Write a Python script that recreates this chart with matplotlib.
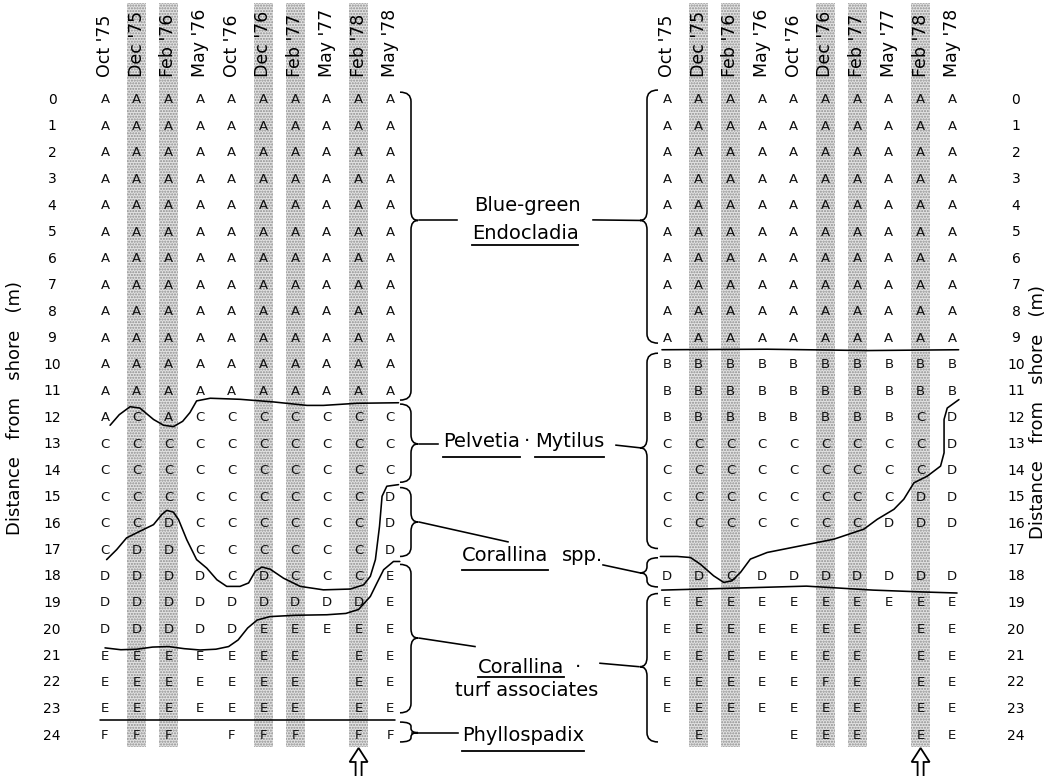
import matplotlib
matplotlib.use("Agg")
import matplotlib.pyplot as plt
from matplotlib.path import Path
from matplotlib.patches import PathPatch, Rectangle, Polygon

# ---------------- data ----------------
months = ["Oct '75", "Dec '75", "Feb '76", "May '76", "Oct '76",
          "Dec '76", "Feb '77", "May '77", "Feb '78", "May '78"]
shaded_cols = [1, 2, 5, 6, 8]
arrow_col = 8
row_labels = [str(i) for i in range(25)]

left_grid = (["AAAAAAAAAA"] * 12 + [
    "ACACCCCCCC",  # 12
    "CCCCCCCCCC",  # 13
    "CCCCCCCCCC",  # 14
    "CCCCCCCCCD",  # 15
    "CCDCCCCCCD",  # 16
    "CDDCCCCCCD",  # 17
    "DDDDCDCCCE",  # 18
    "DDDDDDDDDE",  # 19
    "DDDDDEEEEE",  # 20
    "EEEEEEE EE",  # 21
    "EEEEEEE EE",  # 22
    "EEEEEEE EE",  # 23
    "FFF FFF FF",  # 24
])

right_grid = (["AAAAAAAAAA"] * 10 + [
    "BBBBBBBBBB",  # 10
    "BBBBBBBBBB",  # 11
    "BBBBBBBBCD",  # 12
    "CCCCCCCCCD",  # 13
    "CCCCCCCCCD",  # 14
    "CCCCCCCCDD",  # 15
    "CCCCCCCDDD",  # 16
    "          ",  # 17
    "DDCDDDDDDD",  # 18
    "EEEEEEEEEE",  # 19
    "EEEEEEE EE",  # 20
    "EEEEEEE EE",  # 21
    "EEEEEFE EE",  # 22
    "EEEEEEE EE",  # 23
    " E  EEE EE",  # 24
])

# zone boundaries drawn across the grids, (column, row) pairs
left_bound_AC = [(0.16, 12.35), (0.45, 11.95), (0.79, 11.65), (1.1, 11.7), (1.53, 12.13),
                 (1.85, 12.35), (2.16, 12.4), (2.45, 12.2), (2.68, 11.87), (2.89, 11.43),
                 (3.32, 11.33), (4.26, 11.37), (5.32, 11.47), (6.37, 11.6), (6.89, 11.6),
                 (7.95, 11.52), (9.26, 11.5)]
left_bound_CD = [(0.05, 17.42), (0.37, 17.04), (0.68, 16.6), (1.1, 16.35), (1.53, 16.1),
                 (1.79, 15.72), (1.95, 15.56), (2.16, 15.63), (2.32, 15.91), (2.58, 16.67),
                 (2.89, 17.42), (3.21, 17.74), (3.53, 18.18), (3.84, 18.43), (4.26, 18.43),
                 (4.53, 18.3), (4.74, 17.86), (4.95, 17.7), (5.21, 17.78), (5.63, 18.12),
                 (6.16, 18.43), (6.89, 18.56), (7.74, 18.53), (8.16, 18.37), (8.37, 18.05),
                 (8.53, 17.42), (8.66, 16.16), (8.74, 15.03), (8.89, 14.65), (9.26, 14.59)]
left_bound_DE = [(0.0, 20.75), (0.5, 20.82), (1.0, 20.8), (1.5, 20.72), (2.0, 20.7),
                 (2.5, 20.78), (3.0, 20.83), (3.5, 20.8), (3.9, 20.7), (4.2, 20.45),
                 (4.5, 20.0), (4.8, 19.7), (5.2, 19.57), (6.0, 19.52), (7.0, 19.5),
                 (7.6, 19.45), (8.0, 19.3), (8.37, 18.81), (8.58, 18.3), (8.79, 17.8),
                 (9.1, 17.49), (9.3, 17.49)]
left_bound_EF = [(-0.16, 23.47), (9.15, 23.47)]

right_bound_AB = [(-0.16, 9.5), (3.16, 9.48), (6.3, 9.53), (9.2, 9.5)]
right_bound_BD = [(9.21, 11.38), (8.84, 11.7), (8.74, 12.13), (8.74, 13.39), (8.63, 13.89),
                  (8.21, 14.27), (7.79, 14.52), (7.47, 15.14), (7.16, 15.52), (6.63, 15.9),
                  (6.21, 16.27), (5.26, 16.65), (4.21, 16.9), (3.16, 17.15), (2.63, 17.4),
                  (2.32, 17.9), (2.05, 18.22), (1.79, 18.28), (1.47, 18.03), (1.05, 17.59),
                  (0.74, 17.34), (0.32, 17.3), (-0.21, 17.3)]
right_bound_DE = [(-0.17, 18.57), (2.3, 18.49), (4.4, 18.42), (6.5, 18.57), (8.07, 18.64),
                  (9.15, 18.68)]

# ---------------- layout ----------------
W, H = 1046, 776
X0_PX, DX_PX, RIGHT_X0_PX = 105.0, 31.7, 667.0
Y0_PX, DY_PX = 98.0, 26.5


def cx(px):
    return (px - X0_PX) / DX_PX


def ry(py):
    return (py - Y0_PX) / DY_PX


ROFF = cx(RIGHT_X0_PX)
FONT = "DejaVu Sans"
plt.rcParams["font.family"] = [FONT]
plt.rcParams["hatch.linewidth"] = 1.0

fig = plt.figure(figsize=(W / 100, H / 100), dpi=100)
ax = fig.add_axes([0, 0, 1, 1])
ax.set_xlim(cx(0), cx(W))
ax.set_ylim(ry(H), ry(0))
ax.axis("off")

# stippled (shaded) columns
for off in (0, ROFF):
    for c in shaded_cols:
        ax.add_patch(Rectangle((off + c - 0.3, ry(3)), 0.6, ry(747) - ry(3),
                               facecolor="#e2e2e2", edgecolor="#8e8e8e", hatch="......",
                               lw=0, zorder=0))

# headers
for off in (0, ROFF):
    for c, m in enumerate(months):
        ax.text(off + c, ry(77), m, rotation=90, ha="center", va="bottom",
                fontsize=12.5, zorder=3)

# grid letters
for off, grid in ((0, left_grid), (ROFF, right_grid)):
    for r, line in enumerate(grid):
        for c, ch in enumerate(line):
            if ch != " ":
                ax.text(off + c, r, ch, ha="center", va="center_baseline",
                        fontsize=9.5, color="#111111", zorder=3)

# row numbers
for r, lab in enumerate(row_labels):
    ax.text(cx(52), r, lab, ha="center", va="center_baseline", fontsize=10)
    ax.text(cx(1016), r, lab, ha="center", va="center_baseline", fontsize=10)

ylab = "Distance   from   shore   (m)"
ax.text(cx(15), ry(408), ylab, rotation=90, ha="center", va="center", fontsize=13)
ax.text(cx(1038), ry(412), ylab, rotation=90, ha="center", va="center", fontsize=13)

# boundary curves
LW = 1.15
for pts, off in ((left_bound_AC, 0), (left_bound_CD, 0), (left_bound_DE, 0),
                 (left_bound_EF, 0), (right_bound_AB, ROFF), (right_bound_BD, ROFF),
                 (right_bound_DE, ROFF)):
    ax.plot([p[0] + off for p in pts], [p[1] for p in pts], color="black", lw=LW,
            solid_capstyle="round", solid_joinstyle="round", zorder=4)


# braces
def brace(x_end_px, x_v_px, x_tip_px, top, bottom, tip):
    xe, xv, xt = cx(x_end_px), cx(x_v_px), cx(x_tip_px)
    r = min(0.35, (tip - top) / 2.2, (bottom - tip) / 2.2)
    verts = [(xe, top), (xv, top), (xv, top + r),
             (xv, tip - r), (xv, tip), (xt, tip),
             (xv, tip), (xv, tip + r),
             (xv, bottom - r), (xv, bottom), (xe, bottom)]
    codes = [Path.MOVETO, Path.CURVE3, Path.CURVE3,
             Path.LINETO, Path.CURVE3, Path.CURVE3,
             Path.CURVE3, Path.CURVE3,
             Path.LINETO, Path.CURVE3, Path.CURVE3]
    ax.add_patch(PathPatch(Path(verts, codes), facecolor="none", edgecolor="black",
                           lw=LW, zorder=4))


left_braces = [(-0.22, 11.4, 4.62), (11.55, 14.5, 13.05), (14.7, 17.3, 16.0),
               (17.6, 23.2, 20.38), (23.55, 24.3, 23.95)]
right_braces = [(-0.3, 9.25, 4.62), (9.63, 17.0, 13.2), (17.35, 18.45, 17.92),
                (18.7, 24.3, 21.46)]
for t, b, p in left_braces:
    brace(400, 411, 418, t, b, p)
for t, b, p in right_braces:
    brace(658, 647, 640, t, b, p)


def seg(x0, r0, x1, r1):
    ax.plot([cx(x0), cx(x1)], [r0, r1], color="black", lw=LW, zorder=4)


# connector lines
seg(419, 4.62, 457, 4.62)
seg(593, 4.6, 640, 4.62)
seg(419, 13.05, 438, 13.05)
seg(616, 13.1, 640, 13.2)
seg(419, 16.0, 508, 16.75)
seg(603, 17.62, 640, 17.92)
seg(419, 20.38, 475, 20.7)
seg(600, 21.33, 639, 21.46)
seg(412, 23.95, 458, 23.95)

# zone labels
LF = 14
texts_ul = []
ax.text(cx(527), 4.04, "Blue-green", ha="center", va="center", fontsize=LF)
texts_ul.append((ax.text(cx(525), 5.1, "Endocladia", ha="center", va="center", fontsize=LF), 5.55))
texts_ul.append((ax.text(cx(443), 12.95, "Pelvetia", ha="left", va="center", fontsize=LF), 13.55))
ax.text(cx(527), 12.95, "·", ha="center", va="center", fontsize=LF)
texts_ul.append((ax.text(cx(535), 12.95, "Mytilus", ha="left", va="center", fontsize=LF), 13.55))
texts_ul.append((ax.text(cx(462), 17.25, "Corallina", ha="left", va="center", fontsize=LF), 17.8))
ax.text(cx(562), 17.25, "spp.", ha="left", va="center", fontsize=LF)
texts_ul.append((ax.text(cx(478), 21.5, "Corallina", ha="left", va="center", fontsize=LF), 21.85))
ax.text(cx(578), 21.5, "·", ha="center", va="center", fontsize=LF)
ax.text(cx(527), 22.35, "turf associates", ha="center", va="center", fontsize=LF)
texts_ul.append((ax.text(cx(462), 24.05, "Phyllospadix", ha="left", va="center", fontsize=LF), 24.65))

fig.canvas.draw()
renderer = fig.canvas.get_renderer()
inv = ax.transData.inverted()
for t, urow in texts_ul:
    bb = t.get_window_extent(renderer)
    x0 = inv.transform((bb.x0, bb.y0))[0]
    x1 = inv.transform((bb.x1, bb.y0))[0]
    ax.plot([x0, x1], [urow, urow], color="black", lw=1.3, zorder=4)

# hollow arrows under the Feb '78 columns
for off in (0, ROFF):
    xc = off + arrow_col
    hw, sw = 9 / DX_PX, 3 / DX_PX
    tip, base, bot = ry(748), ry(762), ry(790)
    ax.add_patch(Polygon([(xc, tip), (xc + hw, base), (xc + sw, base), (xc + sw, bot),
                          (xc - sw, bot), (xc - sw, base), (xc - hw, base)],
                         closed=True, facecolor="white", edgecolor="black", lw=1.3,
                         zorder=5))

fig.savefig("out.png", dpi=100, facecolor="white")
